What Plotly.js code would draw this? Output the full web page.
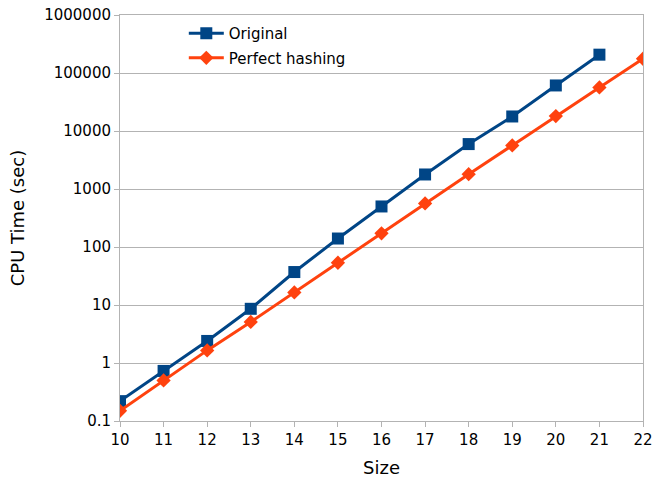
<!DOCTYPE html>
<html>
<head>
<meta charset="utf-8">
<script src="https://cdn.plot.ly/plotly-3.0.1.min.js"></script>
<style>html,body{margin:0;padding:0;background:#fff;}</style>
</head>
<body>
<div id="chart" style="width:655px;height:478px;"></div>
<script>
const sizes = [10, 11, 12, 13, 14, 15, 16, 17, 18, 19, 20, 21, 22];
const original = [0.22, 0.73, 2.4, 8.6, 37, 140, 500, 1780, 5950, 17800, 61000, 207000, null];
const perfectHashing = [0.15, 0.5, 1.65, 5.1, 16.5, 53.5, 172, 565, 1800, 5650, 18100, 56500, 176000];
const yTickVals = [0.1, 1, 10, 100, 1000, 10000, 100000, 1000000];
const yTickText = ["0.1", "1", "10", "100", "1000", "10000", "100000", "1000000"];
const xTickVals = sizes;

const font = "DejaVu Sans, sans-serif";
const traces = [
  {
    x: sizes, y: original, name: "Original", type: "scatter", mode: "lines+markers",
    legendgroup: "a",
    line: {color: "#004586", width: 3},
    marker: {symbol: "square", size: 12, color: "#004586"}
  },
  {
    x: sizes, y: perfectHashing, name: "Perfect hashing", type: "scatter", mode: "lines+markers",
    legendgroup: "b",
    line: {color: "#ff420e", width: 3},
    marker: {symbol: "diamond", size: 11, color: "#ff420e"}
  }
];
const layout = {
  width: 655, height: 478,
  margin: {l: 120, r: 12, t: 15, b: 57},
  paper_bgcolor: "#fff", plot_bgcolor: "#fff",
  font: {family: font, size: 15, color: "#000"},
  showlegend: true,
  legend: {x: 0.122, y: 0.995, xanchor: "left", yanchor: "top", bgcolor: "rgba(0,0,0,0)",
           font: {family: font, size: 15, color: "#000"}, itemwidth: 35,
           traceorder: "grouped", tracegroupgap: 2},
  xaxis: {
    range: [10, 22], tickvals: xTickVals, showgrid: false, zeroline: false,
    showline: true, linecolor: "#b3b3b3", linewidth: 1, mirror: true,
    ticks: "outside", ticklen: 5, tickcolor: "#b3b3b3",
    tickfont: {family: font, size: 15, color: "#000"},
    title: {text: "Size", font: {family: font, size: 18, color: "#000"}, standoff: 14}
  },
  yaxis: {
    type: "log", range: [-1, 6], tickvals: yTickVals, ticktext: yTickText,
    showgrid: true, gridcolor: "#b3b3b3", gridwidth: 1, zeroline: false,
    showline: true, linecolor: "#b3b3b3", linewidth: 1, mirror: true,
    ticks: "outside", ticklen: 5, tickcolor: "#b3b3b3",
    tickfont: {family: font, size: 15, color: "#000"},
    title: {text: "CPU Time (sec)", font: {family: font, size: 18, color: "#000"}, standoff: 14}
  }
};
Plotly.newPlot("chart", traces, layout, {displayModeBar: false, staticPlot: true});
</script>
</body>
</html>
